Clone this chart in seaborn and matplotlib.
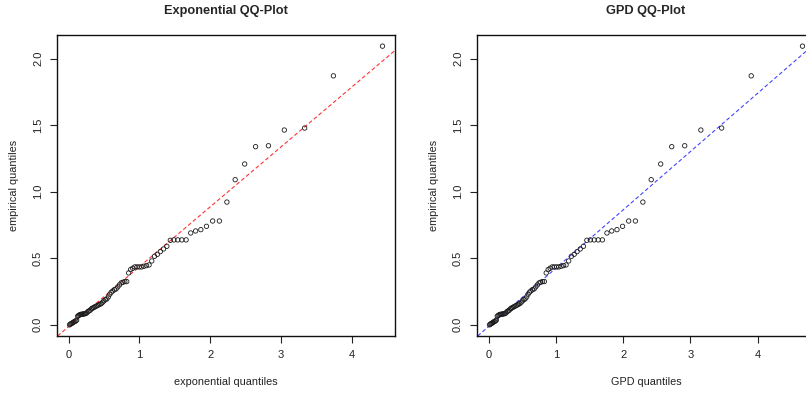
import matplotlib
matplotlib.use("Agg")
import matplotlib.pyplot as plt
import seaborn as sns
import pandas as pd

# Sorted sample (empirical quantiles)
empirical_quantiles = [
    0.000, 0.005, 0.010, 0.012, 0.018, 0.022, 0.025, 0.030, 0.035, 0.065,
    0.070, 0.075, 0.078, 0.080, 0.080, 0.082, 0.083, 0.085, 0.090, 0.100,
    0.105, 0.110, 0.120, 0.125, 0.130, 0.135, 0.140, 0.145, 0.150, 0.155,
    0.160, 0.170, 0.180, 0.190, 0.195, 0.210, 0.230, 0.245, 0.255, 0.265,
    0.270, 0.285, 0.300, 0.315, 0.320, 0.325, 0.325, 0.390, 0.415, 0.425,
    0.435, 0.435, 0.435, 0.435, 0.440, 0.445, 0.450, 0.480, 0.515, 0.530,
    0.550, 0.570, 0.590, 0.635, 0.638, 0.638, 0.638, 0.638, 0.690, 0.705,
    0.715, 0.740, 0.780, 0.780, 0.922, 1.090, 1.208, 1.338, 1.345, 1.463,
    1.478, 1.870, 2.093,
]

# Standard exponential quantiles at plotting positions
exponential_quantiles = [
    0.012, 0.024, 0.036, 0.049, 0.061, 0.074, 0.087, 0.100, 0.113, 0.127,
    0.140, 0.154, 0.168, 0.182, 0.197, 0.211, 0.226, 0.241, 0.256, 0.272,
    0.288, 0.304, 0.320, 0.336, 0.353, 0.370, 0.388, 0.405, 0.423, 0.442,
    0.461, 0.480, 0.499, 0.519, 0.539, 0.560, 0.581, 0.602, 0.624, 0.647,
    0.670, 0.693, 0.717, 0.742, 0.767, 0.793, 0.820, 0.847, 0.875, 0.904,
    0.934, 0.965, 0.997, 1.030, 1.063, 1.099, 1.135, 1.173, 1.212, 1.253,
    1.295, 1.340, 1.386, 1.435, 1.486, 1.540, 1.598, 1.658, 1.723, 1.792,
    1.866, 1.946, 2.033, 2.128, 2.234, 2.351, 2.485, 2.639, 2.821, 3.045,
    3.332, 3.738, 4.431,
]

# Fitted GPD quantiles at the same plotting positions
gpd_quantiles = [
    0.012, 0.024, 0.036, 0.049, 0.061, 0.074, 0.087, 0.100, 0.113, 0.127,
    0.140, 0.154, 0.168, 0.182, 0.197, 0.212, 0.227, 0.242, 0.257, 0.273,
    0.289, 0.305, 0.321, 0.337, 0.354, 0.372, 0.390, 0.407, 0.425, 0.444,
    0.463, 0.483, 0.502, 0.522, 0.542, 0.564, 0.585, 0.606, 0.628, 0.652,
    0.675, 0.699, 0.723, 0.748, 0.774, 0.800, 0.828, 0.855, 0.884, 0.913,
    0.944, 0.976, 1.009, 1.042, 1.076, 1.113, 1.150, 1.189, 1.229, 1.271,
    1.314, 1.361, 1.408, 1.459, 1.512, 1.568, 1.628, 1.690, 1.758, 1.829,
    1.907, 1.990, 2.081, 2.181, 2.292, 2.416, 2.557, 2.721, 2.914, 3.154,
    3.463, 3.903, 4.665,
]

# Reference lines (intercept, slope)
exp_line = (-0.013, 0.450)
gpd_line = (-0.012, 0.438)

titles = ["Exponential QQ-Plot", "GPD QQ-Plot"]
x_labels = ["exponential quantiles", "GPD quantiles"]
y_label = "empirical quantiles"
line_colors = ["#ff3333", "#4444ff"]
x_ticks = [0, 1, 2, 3, 4]
y_ticks = [0.0, 0.5, 1.0, 1.5, 2.0]
y_tick_labels = ["0.0", "0.5", "1.0", "1.5", "2.0"]

sns.set_style("ticks")
plt.rcParams["font.family"] = ["Liberation Sans", "DejaVu Sans"]

fig = plt.figure(figsize=(8.06, 3.94), dpi=100)
fig.patch.set_facecolor("white")
W, H = 806, 394
ax_w, ax_h = 338, 301
axes = [
    fig.add_axes([57 / W, (H - 336) / H, ax_w / W, ax_h / H]),
    fig.add_axes([477 / W, (H - 336) / H, ax_w / W, ax_h / H]),
]

panels = [
    (exponential_quantiles, exp_line),
    (gpd_quantiles, gpd_line),
]

for ax, (xq, (b0, b1)), title, xlab, lc in zip(axes, panels, titles, x_labels, line_colors):
    df = pd.DataFrame({"theoretical": xq, "empirical": empirical_quantiles})
    sns.scatterplot(
        data=df, x="theoretical", y="empirical", ax=ax,
        marker="o", s=10, facecolor="none", edgecolor="#1a1a1a",
        linewidth=0.6, zorder=3,
    )
    ax.axline((0, b0), slope=b1, color=lc, linestyle=(0, (3.5, 2.2)),
              linewidth=0.8, zorder=2)

    # R-style axis ranges: data range padded by 4% each side
    xmin, xmax = min(xq), max(xq)
    ymin, ymax = min(empirical_quantiles), max(empirical_quantiles)
    px, py = 0.04 * (xmax - xmin), 0.04 * (ymax - ymin)
    ax.set_xlim(xmin - px, xmax + px)
    ax.set_ylim(ymin - py, ymax + py)

    ax.set_xticks(x_ticks)
    ax.set_yticks(y_ticks)
    ax.set_yticklabels(y_tick_labels, rotation=90, va="center")
    ax.tick_params(axis="both", direction="out", length=5, width=0.8,
                   labelsize=8, colors="#222222", pad=5)
    for sp in ax.spines.values():
        sp.set_visible(True)
        sp.set_color("#111111")
        sp.set_linewidth(1.0)

    ax.set_title(title, fontsize=9.2, fontweight="bold", pad=15)
    ax.set_xlabel(xlab, fontsize=7.8, color="#222222", labelpad=12)
    ax.set_ylabel(y_label, fontsize=7.8, color="#222222", labelpad=10)

fig.savefig("out.png", dpi=100, facecolor="white")
